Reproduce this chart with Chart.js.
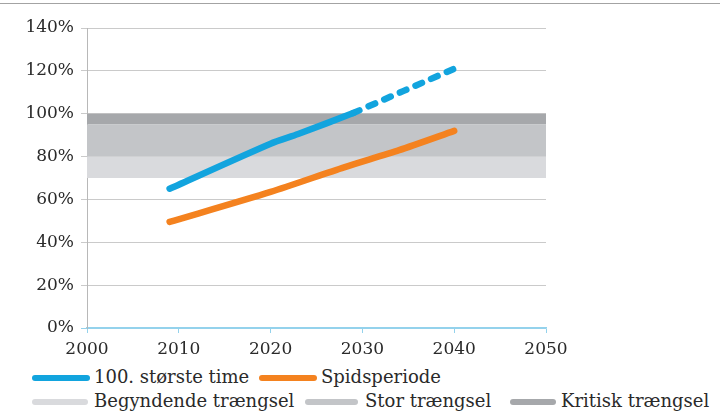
<!DOCTYPE html>
<html>
<head>
<meta charset="utf-8">
<script src="https://cdn.jsdelivr.net/npm/chart.js@4/dist/chart.umd.min.js"></script>
<style>
  html, body { margin: 0; padding: 0; background: #fff; }
  #wrap { position: relative; width: 720px; height: 419px; overflow: hidden; font-family: "DejaVu Serif", serif; color: #2a2a2a; }
  #rule { position: absolute; left: 0; top: 3px; width: 720px; height: 1px; background: #a3a3a3; }
  #plot { position: absolute; left: 0; top: 0; width: 720px; height: 360px; }
  .sw { position: absolute; height: 6px; border-radius: 3px; }
  .lt { position: absolute; font-size: 18px; line-height: 20px; white-space: nowrap; }
</style>
</head>
<body>
<div id="wrap">
  <div id="rule"></div>
  <div id="plot"><canvas id="c"></canvas></div>
  <div id="legend"></div>
</div>
<script>
// Axis ticks
const xTicks = [2000, 2010, 2020, 2030, 2040, 2050];
const yTicks = [0, 20, 40, 60, 80, 100, 120, 140];

// Series (load, % of capacity)
const peakHourYears = [2009, 2020, 2023, 2029];
const peakHourValues = [65, 86, 90.5, 100.3];
const peakHourForecastYears = [2029, 2040];
const peakHourForecastValues = [100.3, 121];
const peakPeriodYears = [2009, 2020, 2028, 2034, 2040];
const peakPeriodValues = [49.5, 63.5, 75, 83, 92];

// Congestion bands: [from, to] in %
const bandNames = ['Begyndende trængsel', 'Stor trængsel', 'Kritisk trængsel'];
const bandLow = [70, 80, 95];
const bandHigh = [80, 95, 100];

const seriesNames = ['100. største time', 'Spidsperiode'];

const BLUE = '#12a4de';
const ORANGE = '#f4821f';
const BAND_COLORS = ['#d9dadd', '#c3c5c8', '#a6a8ab'];
const AXIS_BLUE = '#94d2ec';
const GRID = '#cacaca';
const TEXT = '#2a2a2a';

const pts = (xs, ys) => xs.map((x, i) => ({ x, y: ys[i] }));
const xMin = xTicks[0], xMax = xTicks[xTicks.length - 1];

const lineStyle = {
  borderWidth: 6.5,
  borderCapStyle: 'round',
  borderJoinStyle: 'round',
  pointRadius: 0,
  tension: 0.25,
  fill: false,
  order: 1
};

const datasets = [
  Object.assign({ label: seriesNames[0], data: pts(peakHourYears, peakHourValues), borderColor: BLUE }, lineStyle),
  Object.assign({ label: seriesNames[0] + ' (prognose)', data: pts(peakHourForecastYears, peakHourForecastValues), borderColor: BLUE, borderDash: [7, 10] }, lineStyle),
  Object.assign({ label: seriesNames[1], data: pts(peakPeriodYears, peakPeriodValues), borderColor: ORANGE }, lineStyle)
];

bandNames.forEach((name, i) => {
  datasets.push({
    label: name,
    data: [{ x: xMin, y: bandHigh[i] }, { x: xMax, y: bandHigh[i] }],
    borderWidth: 0,
    borderColor: 'rgba(0,0,0,0)',
    backgroundColor: BAND_COLORS[i],
    pointRadius: 0,
    fill: { value: bandLow[i] },
    order: 5
  });
});

const tickFont = { family: 'DejaVu Serif', size: 17 };

new Chart(document.getElementById('c'), {
  type: 'line',
  data: { datasets },
  options: {
    responsive: true,
    maintainAspectRatio: false,
    animation: false,
    layout: { padding: { top: 28, right: 174, left: 0, bottom: 0 } },
    plugins: { legend: { display: false }, tooltip: { enabled: false } },
    scales: {
      x: {
        type: 'linear',
        min: xMin,
        max: xMax,
        afterBuildTicks: s => { s.ticks = xTicks.map(v => ({ value: v })); },
        afterFit: s => { s.height = 32; },
        ticks: { font: tickFont, color: TEXT, padding: 6, maxRotation: 0, callback: v => String(v) },
        grid: { drawOnChartArea: false, color: AXIS_BLUE, tickLength: 5, lineWidth: 1 },
        border: { color: AXIS_BLUE, width: 1.5 }
      },
      y: {
        min: yTicks[0],
        max: yTicks[yTicks.length - 1],
        afterBuildTicks: s => { s.ticks = yTicks.map(v => ({ value: v })); },
        afterFit: s => { s.width = 87; },
        ticks: { font: tickFont, color: TEXT, padding: 7, callback: v => v + '%' },
        grid: { color: c => (c.tick && c.tick.value === 0 ? AXIS_BLUE : GRID), tickLength: 6, lineWidth: 1 },
        border: { color: '#b8b8b8', width: 1 }
      }
    }
  }
});

// Legend below the plot
const legendItems = [
  { text: seriesNames[0], color: BLUE, sx: 32, sw: 58, tx: 94, cy: 378 },
  { text: seriesNames[1], color: ORANGE, sx: 259, sw: 58, tx: 321, cy: 378 },
  { text: bandNames[0], color: BAND_COLORS[0], sx: 32, sw: 56, tx: 94, cy: 402 },
  { text: bandNames[1], color: BAND_COLORS[1], sx: 305, sw: 53, tx: 365, cy: 402 },
  { text: bandNames[2], color: BAND_COLORS[2], sx: 510, sw: 46, tx: 561, cy: 402 }
];
const legend = document.getElementById('legend');
legendItems.forEach(it => {
  const s = document.createElement('div');
  s.className = 'sw';
  s.style.left = it.sx + 'px';
  s.style.width = it.sw + 'px';
  s.style.top = (it.cy - 3) + 'px';
  s.style.background = it.color;
  legend.appendChild(s);
  const t = document.createElement('div');
  t.className = 'lt';
  t.style.left = it.tx + 'px';
  t.style.top = (it.cy - 11) + 'px';
  t.textContent = it.text;
  legend.appendChild(t);
});
</script>
</body>
</html>
